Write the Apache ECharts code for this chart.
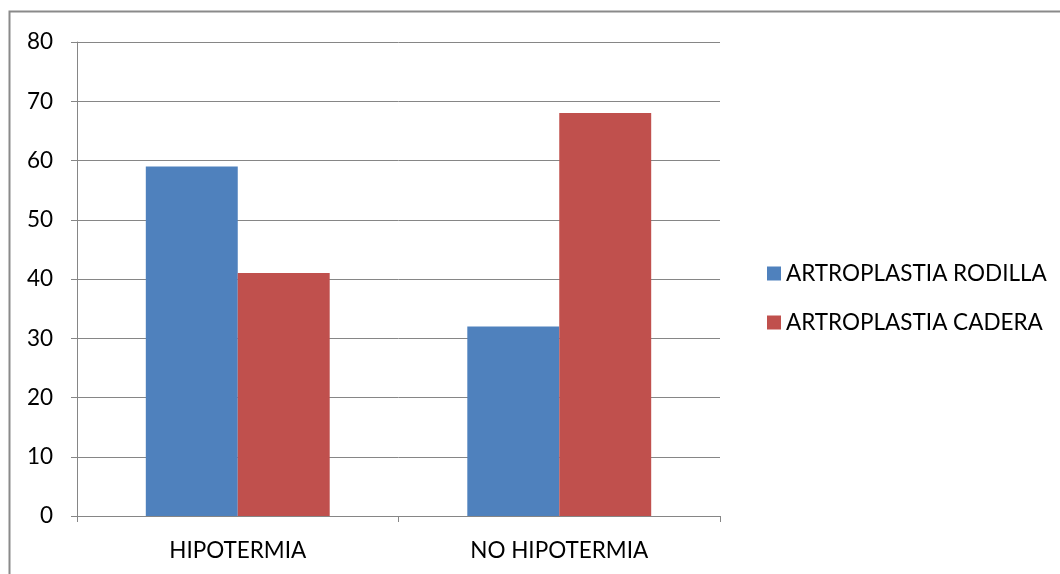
<!DOCTYPE html>
<html><head><meta charset="utf-8">
<script src="https://cdn.jsdelivr.net/npm/echarts@6/dist/echarts.min.js"></script>
<style>html,body{margin:0;padding:0;background:#fff}#c{width:1060px;height:574px}</style>
</head><body><div id="c"></div>
<script>
const categories = ['HIPOTERMIA', 'NO HIPOTERMIA'];
const seriesNames = ['ARTROPLASTIA RODILLA', 'ARTROPLASTIA CADERA'];
const rodilla = [59, 32];
const cadera = [41, 68];
const yTicks = [0, 10, 20, 30, 40, 50, 60, 70, 80];

const font = 'Lato, "Open Sans", sans-serif';
const chart = echarts.init(document.getElementById('c'), null, {renderer: 'canvas'});
chart.setOption({
  animation: false,
  backgroundColor: '#fff',
  graphic: [{type: 'rect', shape: {x: 9.5, y: 11.5, width: 1200, height: 1000}, style: {fill: 'none', stroke: '#8a8a8a', lineWidth: 2}, silent: true}],
  grid: {left: 77, right: 340, top: 42, bottom: 58, containLabel: false},
  legend: {
    orient: 'vertical', left: 762, top: 257, itemWidth: 14, itemHeight: 14, itemGap: 26,
    icon: 'rect',
    textStyle: {fontFamily: font, fontSize: 22.5, color: '#000', padding: [0, 0, 0, 0]},
    data: seriesNames
  },
  xAxis: {
    type: 'category', data: categories,
    axisLine: {lineStyle: {color: '#868686', width: 1}},
    axisTick: {show: true, length: 6, lineStyle: {color: '#868686'}},
    axisLabel: {fontFamily: font, fontSize: 22.5, color: '#000', margin: 23}
  },
  yAxis: {
    type: 'value', min: yTicks[0], max: yTicks[yTicks.length - 1], interval: 10,
    axisLine: {show: true, lineStyle: {color: '#868686', width: 1}},
    axisTick: {show: true, length: 6, lineStyle: {color: '#868686'}},
    splitLine: {lineStyle: {color: '#868686', width: 1}},
    axisLabel: {fontFamily: font, fontSize: 22.5, color: '#000', margin: 24,
      formatter: v => yTicks.includes(v) ? String(v) : ''}
  },
  series: [
    {name: seriesNames[0], type: 'bar', data: rodilla, itemStyle: {color: '#4f81bd'}, barGap: '0%', barCategoryGap: '42.8%'},
    {name: seriesNames[1], type: 'bar', data: cadera, itemStyle: {color: '#c0504d'}, barGap: '0%', barCategoryGap: '42.8%'}
  ]
});
</script></body></html>
